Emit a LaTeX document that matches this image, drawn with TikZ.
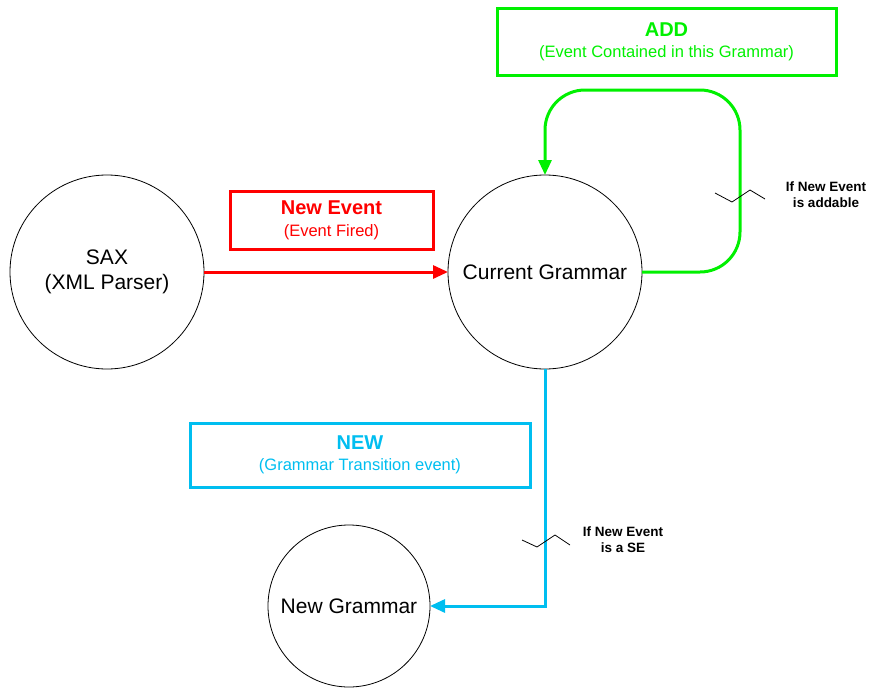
\documentclass[tikz,border=0pt]{standalone}
\usepackage{fontspec}
\setmainfont{Liberation Sans}
\usetikzlibrary{arrows.meta,positioning}
\definecolor{evred}{RGB}{255,0,0}
\definecolor{addgreen}{RGB}{0,240,0}
\definecolor{newcyan}{RGB}{0,190,240}
\tikzset{
  state/.style={circle,draw,line width=0.8pt,minimum size=194pt,inner sep=0pt,outer sep=0pt,
    font=\fontsize{21}{25}\selectfont,align=center},
  tagbox/.style={draw,line width=3pt,minimum height=58pt,align=center,inner sep=0pt},
  cond/.style={font=\bfseries\fontsize{13.5}{16}\selectfont,align=center},
  flow/.style={line width=3pt,-{Triangle[length=15pt,width=13pt]}}
}
\newcommand{\tagtext}[2]{{\bfseries\fontsize{20}{24}\selectfont #1}\\[9pt]{\fontsize{16.5}{20}\selectfont #2}}
\begin{document}
\begin{tikzpicture}[x=1pt,y=-1pt]
\useasboundingbox (0,0) rectangle (873,688);
\node[state] (sax) at (107,272) {SAX\\(XML Parser)};
\node[state] (cur) at (545,272) {Current Grammar};
\node[state,minimum size=162pt] (newg) at (349,606) {New Grammar};
% labels
\node[tagbox,evred,text=evred,minimum width=203pt] (evbox) at (331.5,220.5) {\tagtext{New Event}{(Event Fired)}};
\node[tagbox,addgreen,text=addgreen,minimum width=339pt,minimum height=67pt] (addbox) at (666.5,41.5) {\tagtext{ADD}{(Event Contained in this Grammar)}};
\node[tagbox,newcyan,text=newcyan,minimum width=340pt,minimum height=64pt] (newbox) at (360,455) {\tagtext{NEW}{(Grammar Transition event)}};
% connectors
\draw[flow,evred] (sax.east) -- (cur.west);
\draw[flow,addgreen,rounded corners=40pt] (cur.east) -- ++(98,0) |- ([yshift=85pt]cur.north) -- (cur.north);
\draw[flow,newcyan] (cur.south) |- (newg.east);
% conditions
\draw[line width=0.8pt] (715,193) -- (732,202) -- (750,190) -- (765,199);
\node[cond] (addcond) at (826,195) {If New Event\\is addable};
\draw[line width=0.8pt] (522,540) -- (537,547) -- (555,535) -- (570,545);
\node[cond] (newcond) at (623,540) {If New Event\\is a SE};
\end{tikzpicture}
\end{document}
